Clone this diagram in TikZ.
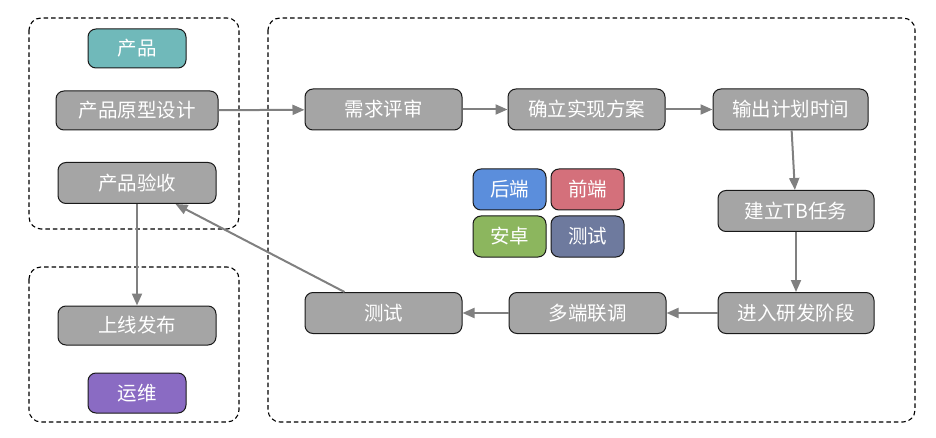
\documentclass[tikz,border=0pt]{standalone}
\usepackage{fontspec}
\setmainfont{Noto Sans CJK SC}
\usepackage{tikz}
\usetikzlibrary{arrows.meta}
\definecolor{boxgray}{HTML}{A5A5A5}
\definecolor{linegray}{HTML}{808080}
\definecolor{mteal}{HTML}{70B9BA}
\definecolor{mblue}{HTML}{5B8EDC}
\definecolor{mred}{HTML}{D4707B}
\definecolor{mgreen}{HTML}{8CB65E}
\definecolor{mslate}{HTML}{6E7A9E}
\definecolor{mpurple}{HTML}{8A6BC3}
\tikzset{task/.style = {draw=black!90, fill=boxgray, text=white, rounded corners=8pt,
    line width=1pt, inner sep=0pt, minimum width=157pt, minimum height=41pt,
    font=\fontsize{19.5}{22}\selectfont}}
\tikzset{tag/.style = {task, minimum width=73pt}}
\tikzset{flow/.style = {draw=linegray, line width=2pt, -{Triangle[length=12pt,width=10pt]}}}
\tikzset{group/.style = {draw=black, line width=1.1pt, dash pattern=on 4.5pt off 3pt, rounded corners=12pt}}

\begin{document}
\begin{tikzpicture}[x=1pt,y=-1pt]
      \useasboundingbox (0,0) rectangle (936,438);
      % groups
      \draw [group] (29,18) rectangle (239,229);
      \draw [group] (29,267) rectangle (239,422);
      \draw [group] (268,18) rectangle (915,422);
      % product side
      \node [task, fill=mteal, minimum width=98pt, minimum height=39pt] (prod) at (137,48.5) {产品};
      \node [task, minimum width=162pt, minimum height=39pt] (proto) at (137,110.5) {产品原型设计};
      \node [task, minimum width=158pt] (accept) at (137,183) {产品验收};
      \node [task, minimum width=158pt, minimum height=39pt] (release) at (137,325.5) {上线发布};
      \node [task, fill=mpurple, minimum width=98pt, minimum height=40pt] (ops) at (137,393) {运维};
      % development flow
      \node [task] (review) at (383.5,109.5) {需求评审};
      \node [task] (plan) at (586.5,109.5) {确立实现方案};
      \node [task, minimum width=155pt] (time) at (790.5,109.5) {输出计划时间};
      \node [task, minimum width=156pt] (tb) at (796,211) {建立TB任务};
      \node [task, minimum width=156pt] (dev) at (796,313) {进入研发阶段};
      \node [task] (joint) at (587.5,313) {多端联调};
      \node [task] (test) at (383.5,313) {测试};
      % roles
      \node [tag, fill=mblue] (backend) at (509.5,189.5) {后端};
      \node [tag, fill=mred] (frontend) at (587.5,189.5) {前端};
      \node [tag, fill=mgreen] (android) at (509.5,236.5) {安卓};
      \node [tag, fill=mslate] (qa) at (587.5,236.5) {测试};
      % arrows
      \draw [flow] (proto) -- (review);
      \draw [flow] (review) -- (plan);
      \draw [flow] (plan) -- (time);
      \draw [flow] (time) -- (tb);
      \draw [flow] (tb) -- (dev);
      \draw [flow] (dev) -- (joint);
      \draw [flow] (joint) -- (test);
      \draw [flow] ([xshift=40pt]test.north west) -- ([xshift=-41pt]accept.south east);
      \draw [flow] (accept) -- (release);
    \end{tikzpicture}
\end{document}
